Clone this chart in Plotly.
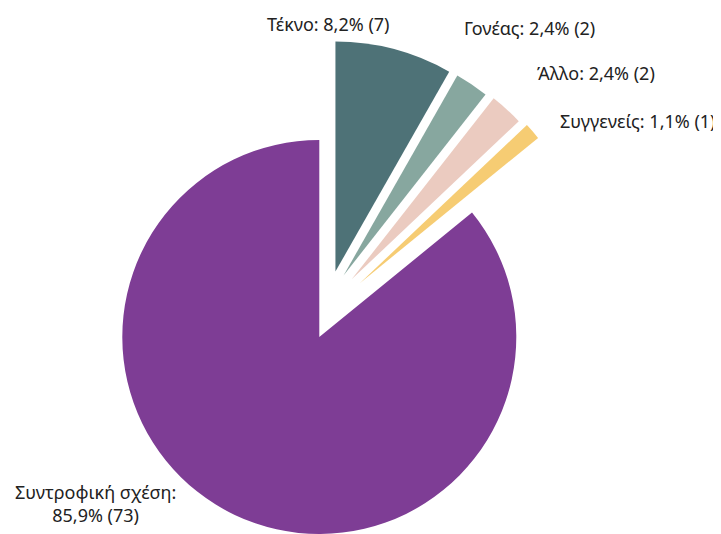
import math
import plotly.graph_objects as go

# ---- data ----
categories = ["Τέκνο", "Γονέας", "Άλλο", "Συγγενείς", "Συντροφική σχέση"]
counts = [7, 2, 2, 1, 73]
percent_shown = [8.2, 2.4, 2.4, 1.1, 85.9]

# ---- style ----
colors = ["#4e7277", "#87a79f", "#ebcbc0", "#f6cc73", "#7e3d95"]
TRANSPARENT = "rgba(0,0,0,0)"
WIN_W, WIN_H = 721, 534
OFF = 8                      # default page margin around the plot div
W, H = WIN_W - OFF, WIN_H - OFF
# geometry given in window pixels
main_cx, main_cy, main_r = 319.3, 337.0, 197.0
small_r = 230.0
group_pull = 66.0
spread = 9.0
exploded = [0, 1, 2, 3]
FONT = "Noto Sans"
FONT_SIZE = 18
label_pos = [(328, 23.5), (529, 28), (596, 73), (637.5, 121), (95, 503.5)]

total = sum(counts)
group_deg = sum(counts[i] for i in exploded) / total * 360
gmid = math.radians(group_deg / 2)
u = (math.sin(gmid), -math.cos(gmid))
nrm = (math.cos(gmid), math.sin(gmid))


def clamp(v):
    return min(1.0, max(0.0, v))


def domain(cx, cy, r):
    cx -= OFF
    cy -= OFF
    return dict(x=[clamp((cx - r) / W), clamp((cx + r) / W)],
                y=[clamp(1 - (cy + r) / H), clamp(1 - (cy - r) / H)])


def pie(visible_idx, cx, cy, r):
    cols = [colors[j] if j in visible_idx else TRANSPARENT for j in range(len(counts))]
    return go.Pie(
        labels=categories, values=counts, sort=False, direction="clockwise",
        rotation=0, textinfo="none", hoverinfo="label+value+percent",
        marker=dict(colors=cols, line=dict(width=0)),
        domain=domain(cx, cy, r), showlegend=False,
    )


fig = go.Figure()
fig.add_trace(pie([4], main_cx, main_cy, main_r))

k = len(exploded)
for pos, i in enumerate(exploded):
    s = (pos - (k - 1) / 2) * spread
    cx = main_cx + group_pull * u[0] + s * nrm[0]
    cy = main_cy + group_pull * u[1] + s * nrm[1]
    fig.add_trace(pie([i], cx, cy, small_r))

annotations = []
for i, cat in enumerate(categories):
    pct = f"{percent_shown[i]:.1f}".replace(".", ",")
    sep = "<br>" if i == 4 else " "
    text = f"{cat}:{sep}{pct}% ({counts[i]})"
    x, y = label_pos[i]
    annotations.append(dict(
        x=(x - OFF) / W, y=1 - (y - OFF) / H, xref="paper", yref="paper", text=text,
        showarrow=False, xanchor="center", yanchor="middle", align="center",
        font=dict(family=FONT, size=FONT_SIZE, color="#222222"),
    ))

fig.update_layout(
    width=W, height=H, margin=dict(l=0, r=0, t=0, b=0),
    paper_bgcolor="white", plot_bgcolor="white",
    annotations=annotations, showlegend=False,
)

fig.write_html("out.html")
